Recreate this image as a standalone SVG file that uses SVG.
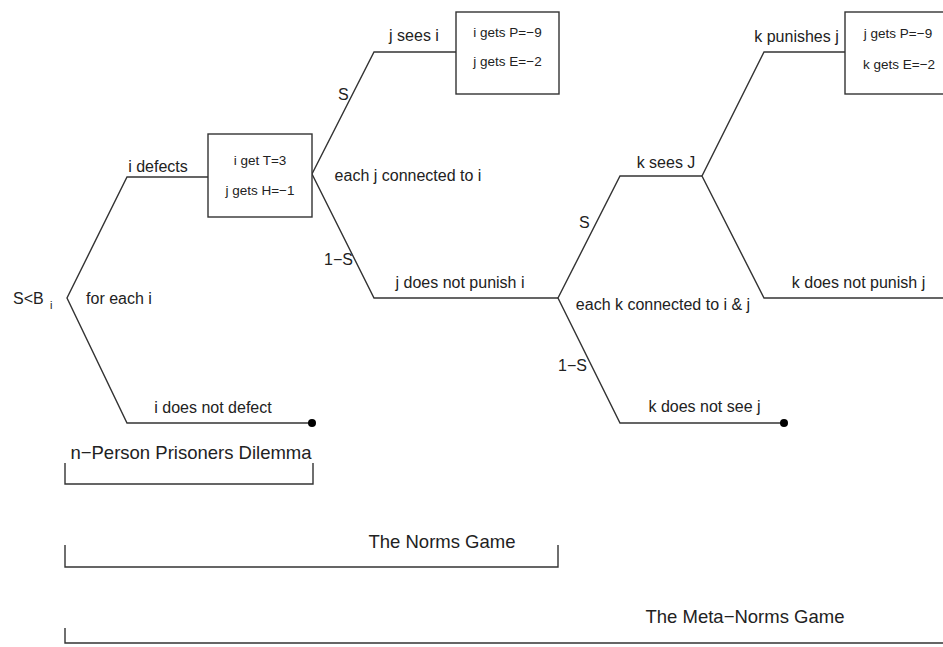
<svg xmlns="http://www.w3.org/2000/svg" width="943" height="647" viewBox="0 0 943 647">
<style>
.ln{fill:none;stroke:#333;stroke-width:1.4}
.box{fill:#fff;stroke:#333;stroke-width:1.4}
text{font-family:"Liberation Sans",Arial,sans-serif;fill:#222}
.lb{font-size:16px;text-anchor:middle}
.bx{font-size:13.5px;text-anchor:middle}
.gm{font-size:18.5px;text-anchor:middle}
.dot{fill:#000}
</style>
<rect width="943" height="647" fill="#fff"/>
<g id="connectors">
<polyline class="ln" points="312,423 127,423 67,298 127,177 208,177"/>
<polyline class="ln" points="456,52 374,52 312,174 374,298 558,298"/>
<polyline class="ln" points="702,176 620,176 558,298 620,423 784,423"/>
<polyline class="ln" points="845,52 764,52 702,176 764,298 943,298"/>
</g>
<g id="root">
<text x="13" y="304" style="font-size:16px">S&lt;B</text>
<text x="50" y="309" style="font-size:11px">i</text>
<text class="lb" x="119" y="304">for each i</text>
</g>
<g id="defect-edge"><text class="lb" x="158" y="172">i defects</text></g>
<g id="nodefect-edge"><text class="lb" x="213" y="413">i does not defect</text><circle class="dot" cx="312" cy="423" r="4"/></g>
<g id="box-T">
<rect class="box" x="208" y="134" width="104" height="83"/>
<text class="bx" x="260" y="165">i get T=3</text>
<text class="bx" x="260" y="195">j gets H=−1</text>
</g>
<g id="j-node">
<text class="lb" x="408" y="181">each j connected to i</text>
<text x="338" y="100" style="font-size:16px">S</text>
<text x="324" y="265" style="font-size:16px">1−S</text>
<text class="lb" x="414" y="41">j sees i</text>
<text class="lb" x="460" y="288">j does not punish i</text>
</g>
<g id="box-P1">
<rect class="box" x="456" y="12" width="103" height="82"/>
<text class="bx" x="507.5" y="37">i gets P=−9</text>
<text class="bx" x="507.5" y="66">j gets E=−2</text>
</g>
<g id="k-node">
<text class="lb" x="663" y="310">each k connected to i &amp; j</text>
<text x="579" y="228" style="font-size:16px">S</text>
<text x="558" y="371" style="font-size:16px">1−S</text>
<text class="lb" x="666" y="168">k sees J</text>
<text class="lb" x="704.5" y="412">k does not see j</text>
<circle class="dot" cx="784" cy="423" r="4"/>
</g>
<g id="k-sees-node">
<text class="lb" x="796.5" y="42">k punishes j</text>
<text class="lb" x="858.5" y="288">k does not punish j</text>
</g>
<g id="box-P2">
<rect class="box" x="845" y="12" width="110" height="82"/>
<text class="bx" x="898" y="38">j gets P=−9</text>
<text class="bx" x="899" y="69">k gets E=−2</text>
</g>
<g id="bracket-pd">
<path class="ln" d="M65 463V484H313V463"/>
<text class="gm" x="191" y="459">n−Person Prisoners Dilemma</text>
</g>
<g id="bracket-norms">
<path class="ln" d="M65 545V567H558V545"/>
<text class="gm" x="442" y="548">The Norms Game</text>
</g>
<g id="bracket-meta">
<path class="ln" d="M65 628V643H943"/>
<text class="gm" x="745" y="623">The Meta−Norms Game</text>
</g>
</svg>
